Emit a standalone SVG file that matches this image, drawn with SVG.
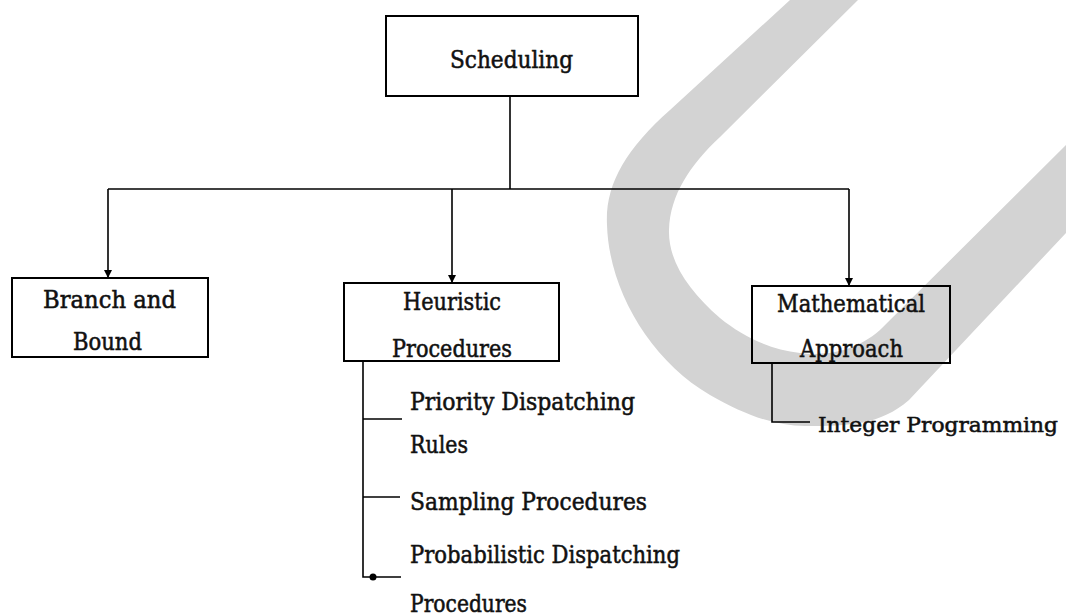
<svg xmlns="http://www.w3.org/2000/svg" width="1066" height="616" viewBox="0 0 1066 616" xml:space="preserve">
  <style>
    .box { fill: none; stroke: #000; stroke-width: 2; }
    .wire { fill: none; stroke: #000; stroke-width: 1.6; }
    .lbl { font-family: "DejaVu Serif", "Liberation Serif", serif; font-size: 24px; fill: #111; stroke: #111; stroke-width: 0.55; }
    .lbl.edge { font-size: 21px; }
  </style>
  <defs>
    <marker id="arrow" viewBox="0 0 10 10" refX="10" refY="5" markerWidth="8" markerHeight="8" markerUnits="userSpaceOnUse" orient="auto">
      <path d="M0,0 L10,5 L0,10 Z" fill="#000"/>
    </marker>
  </defs>

  <!-- light grey backdrop stroke -->
  <path id="backdrop" fill="#d3d3d3" d="M 790,0 L 670,110 C 625,150 605,185 607,225 C 609,290 650,360 710,395 C 745,415 775,426 805,426 C 850,426 880,425 909,400 L 1066,233 L 1066,145 L 880,330 C 855,352 825,356 800,353 C 770,350 742,336 720,318 C 690,292 668,262 669,230 C 670,195 690,165 720,137 L 858,0 Z"/>

  <!-- connectors -->
  <g id="connectors">
    <path class="wire" d="M510,96 L510,189"/>
    <path class="wire" d="M108,189 L849,189"/>
    <path class="wire" d="M108,189 L108,278" marker-end="url(#arrow)"/>
    <path class="wire" d="M452,189 L452,283" marker-end="url(#arrow)"/>
    <path class="wire" d="M849,189 L849,286" marker-end="url(#arrow)"/>
    <path class="wire" d="M363,361 L363,577 L401,577"/>
    <path class="wire" d="M363,419 L402,419"/>
    <path class="wire" d="M363,497 L400,497"/>
    <circle cx="373" cy="577" r="3.5" fill="#000"/>
    <path class="wire" d="M772,363 L772,422 L810,422"/>
  </g>

  <g id="scheduling">
    <rect class="box" x="386" y="16" width="252" height="80"/>
    <text class="lbl" x="450" y="68" textLength="123" lengthAdjust="spacingAndGlyphs">Scheduling</text>
  </g>

  <g id="branch-and-bound">
    <rect class="box" x="12" y="278" width="196" height="79"/>
    <text class="lbl" x="43" y="308" textLength="133" lengthAdjust="spacingAndGlyphs">Branch  and</text>
    <text class="lbl" x="73" y="350" textLength="69" lengthAdjust="spacingAndGlyphs">Bound</text>
  </g>

  <g id="heuristic-procedures">
    <rect class="box" x="344" y="283" width="215" height="78"/>
    <text class="lbl" x="403" y="310" textLength="98" lengthAdjust="spacingAndGlyphs">Heuristic</text>
    <text class="lbl" x="392" y="357" textLength="120" lengthAdjust="spacingAndGlyphs">Procedures</text>
  </g>

  <g id="mathematical-approach">
    <rect class="box" x="752" y="286" width="198" height="77"/>
    <text class="lbl" x="777" y="312" textLength="148" lengthAdjust="spacingAndGlyphs">Mathematical</text>
    <text class="lbl" x="800" y="357" textLength="103" lengthAdjust="spacingAndGlyphs">Approach</text>
  </g>

  <g id="priority-dispatching">
    <text class="lbl" x="410" y="410" textLength="225" lengthAdjust="spacingAndGlyphs">Priority  Dispatching</text>
    <text class="lbl" x="410" y="453" textLength="58" lengthAdjust="spacingAndGlyphs">Rules</text>
  </g>

  <g id="sampling-procedures">
    <text class="lbl" x="410" y="510" textLength="237" lengthAdjust="spacingAndGlyphs">Sampling  Procedures</text>
  </g>

  <g id="probabilistic-dispatching">
    <text class="lbl" x="410" y="563" textLength="270" lengthAdjust="spacingAndGlyphs">Probabilistic Dispatching</text>
    <text class="lbl" x="410" y="612" textLength="117" lengthAdjust="spacingAndGlyphs">Procedures</text>
  </g>

  <g id="integer-programming">
    <text class="lbl edge" x="818" y="432" textLength="240" lengthAdjust="spacingAndGlyphs">Integer  Programming</text>
  </g>
</svg>
